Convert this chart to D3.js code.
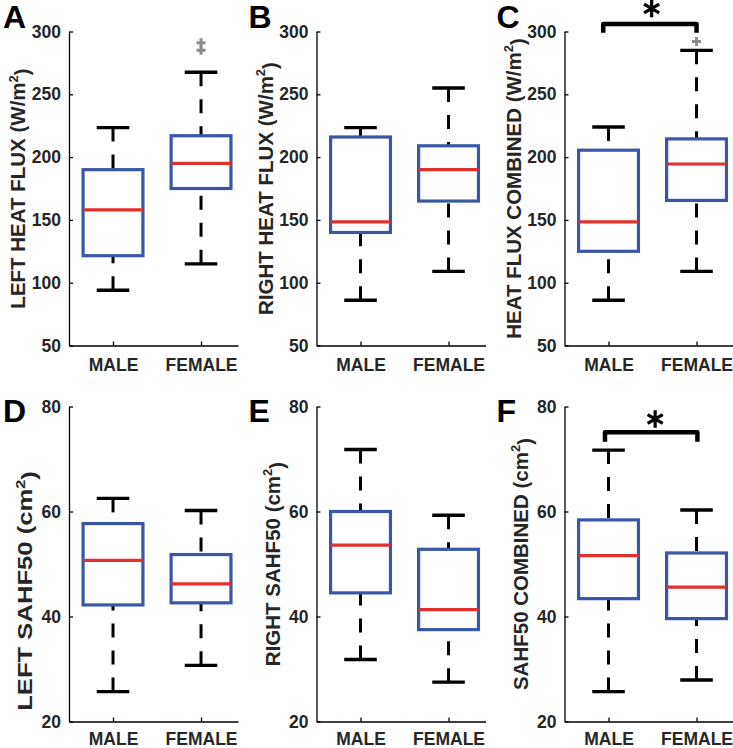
<!DOCTYPE html>
<html>
<head>
<meta charset="utf-8">
<script src="https://cdn.jsdelivr.net/npm/d3@7/dist/d3.min.js"></script>
<style>
  html, body { margin: 0; padding: 0; background: #ffffff; }
  svg { display: block; }
  text { font-family: "Liberation Sans", Arial, sans-serif; font-weight: bold; }
</style>
</head>
<body>
<script>
// ---------------- data ----------------
const categories = ["MALE", "FEMALE"];
const panelLetters = ["A", "B", "C", "D", "E", "F"];
const yLabelMain = ["LEFT HEAT FLUX (W/m", "RIGHT HEAT FLUX (W/m", "HEAT FLUX COMBINED (W/m",
                    "LEFT SAHF50 (cm", "RIGHT SAHF50 (cm", "SAHF50 COMBINED (cm"];
const heatTicks = [50, 100, 150, 200, 250, 300];
const sahfTicks = [20, 40, 60, 80];

// box stats: [lower whisker, Q1, median, Q3, upper whisker]
const leftHeatMale     = [94, 121.5, 158, 190, 223.5];
const leftHeatFemale   = [115, 175, 195, 217, 267.5];
const rightHeatMale    = [86, 140, 148.5, 216, 223.5];
const rightHeatFemale  = [109, 165, 190, 209, 255];
const combHeatMale     = [86, 125, 148.5, 205.5, 224];
const combHeatFemale   = [109, 165.5, 194.5, 214.5, 285];
const leftSahfMale     = [25.7, 42.2, 50.7, 57.7, 62.5];
const leftSahfFemale   = [30.7, 42.6, 46.2, 51.8, 60.2];
const rightSahfMale    = [31.8, 44.5, 53.6, 60.0, 71.8];
const rightSahfFemale  = [27.5, 37.5, 41.3, 52.8, 59.3];
const combSahfMale     = [25.7, 43.4, 51.6, 58.4, 71.7];
const combSahfFemale   = [27.9, 39.6, 45.6, 52.1, 60.3];

// outliers (female only)
const leftHeatOutliers = [291, 285];
const combHeatOutliers = [292];

// significance brackets: [x start, x end, top value, leg-end value, star x, star y]
const bracketC = [0.94, 2.0, 306, 299, 1.49, 318.3];
const bracketF = [0.96, 2.01, 75.1, 73.3, 1.53, 77.6];

// ---------------- layout ----------------
const W = 733, H = 748;
const colX = [69, 316.5, 564.5];
const rowTop = [31.5, 406.5];
const rowBottom = [345.5, 721.5];
const axisW = 169;
const labelStretch = [1, 1, 1, 1.25, 1, 1];
const labelShift = [0, 0, 0, 27, 0, 0];

const panels = [
  { stats: [leftHeatMale, leftHeatFemale], dom: [50, 300], ticks: heatTicks, out: leftHeatOutliers, br: null },
  { stats: [rightHeatMale, rightHeatFemale], dom: [50, 300], ticks: heatTicks, out: [], br: null },
  { stats: [combHeatMale, combHeatFemale], dom: [50, 300], ticks: heatTicks, out: combHeatOutliers, br: bracketC },
  { stats: [leftSahfMale, leftSahfFemale], dom: [20, 80], ticks: sahfTicks, out: [], br: null },
  { stats: [rightSahfMale, rightSahfFemale], dom: [20, 80], ticks: sahfTicks, out: [], br: null },
  { stats: [combSahfMale, combSahfFemale], dom: [20, 80], ticks: sahfTicks, out: [], br: bracketF }
];

const svg = d3.select("body").append("svg").attr("width", W).attr("height", H);

const BLUE = "#3a56a6", RED = "#e2302d", GRAY = "#8c8c8c", TXT = "#262626";

panels.forEach((p, k) => {
  const col = k % 3, row = Math.floor(k / 3);
  const x0 = colX[col], top = rowTop[row], bottom = rowBottom[row];
  const x = d3.scaleLinear().domain([0.5, 2.42]).range([x0, x0 + axisW]);
  const y = d3.scaleLinear().domain(p.dom).range([bottom, top]);
  const g = svg.append("g");

  // axes
  const ya = g.append("g").attr("transform", `translate(${x0},0)`)
    .call(d3.axisLeft(y).tickValues(p.ticks).tickSizeInner(-4).tickSizeOuter(0).tickPadding(8));
  const xa = g.append("g").attr("transform", `translate(0,${bottom})`)
    .call(d3.axisBottom(x).tickValues([1, 2]).tickFormat(d => categories[d - 1])
      .tickSizeInner(-4).tickSizeOuter(0).tickPadding(row === 0 ? 13 : 11));
  [ya, xa].forEach(a => {
    a.select(".domain").attr("stroke", "#000").attr("stroke-width", 1.3);
    a.selectAll(".tick line").attr("stroke", "#000").attr("stroke-width", 1.3);
    a.selectAll(".tick text").attr("fill", TXT).style("font-size", "17.5px")
      .style("font-family", "'Liberation Sans', Arial, sans-serif").style("font-weight", "bold");
  });

  // y label
  const lx = x0 - (row === 0 ? 44 : 37);
  const ly = (top + bottom) / 2 + labelShift[k];
  const t = g.append("text")
    .attr("transform", `translate(${lx},${ly}) rotate(-90) scale(${labelStretch[k]},1)`)
    .attr("text-anchor", "middle").attr("fill", TXT).style("font-size", "20.5px");
  t.append("tspan").text(yLabelMain[k]);
  t.append("tspan").attr("dy", "-0.55em").style("font-size", "13px").text("2");
  t.append("tspan").attr("dy", "0.55em").text(")");

  // panel letter
  g.append("text").attr("x", col === 0 ? 3 : colX[col] - 68).attr("y", row === 0 ? 28 : 422)
    .attr("fill", "#000").style("font-size", "32px").text(panelLetters[k]);

  // boxes
  const halfBox = 0.34, halfCap = 0.185;
  p.stats.forEach((s, i) => {
    const c = i + 1;
    const [lo, q1, med, q3, hi] = s;
    // whiskers, dashed from cap toward box
    g.append("line").attr("x1", x(c)).attr("x2", x(c)).attr("y1", y(hi)).attr("y2", y(q3))
      .attr("stroke", "#000").attr("stroke-width", 3).attr("stroke-dasharray", "14,13");
    g.append("line").attr("x1", x(c)).attr("x2", x(c)).attr("y1", y(lo)).attr("y2", y(q1))
      .attr("stroke", "#000").attr("stroke-width", 3).attr("stroke-dasharray", "14,13");
    // caps
    [lo, hi].forEach(v => {
      g.append("line").attr("x1", x(c - halfCap)).attr("x2", x(c + halfCap))
        .attr("y1", y(v)).attr("y2", y(v)).attr("stroke", "#000").attr("stroke-width", 3.4);
    });
    // box
    g.append("rect").attr("x", x(c - halfBox)).attr("y", y(q3))
      .attr("width", x(c + halfBox) - x(c - halfBox)).attr("height", y(q1) - y(q3))
      .attr("fill", "none").attr("stroke", BLUE).attr("stroke-width", 3.2);
    // median
    g.append("line").attr("x1", x(c - halfBox)).attr("x2", x(c + halfBox))
      .attr("y1", y(med)).attr("y2", y(med)).attr("stroke", RED).attr("stroke-width", 3.2);
  });

  // outliers (gray plus markers, female group)
  p.out.forEach(v => {
    const cx = x(2), cy = y(v), r = 4.5;
    g.append("path").attr("d", `M${cx - r},${cy}H${cx + r}M${cx},${cy - r}V${cy + r}`)
      .attr("stroke", GRAY).attr("stroke-width", 3).attr("fill", "none");
  });

  // significance bracket with asterisk marker
  if (p.br) {
    const [xa1, xa2, vt, vl, sx, sy] = p.br;
    g.append("path")
      .attr("d", `M${x(xa1)},${y(vl)}V${y(vt)}H${x(xa2)}V${y(vl)}`)
      .attr("stroke", "#000").attr("stroke-width", 4.5).attr("fill", "none")
      .attr("stroke-linejoin", "round");
    g.append("path")
      .attr("d", d3.symbol(d3.symbolAsterisk, 215)())
      .attr("transform", `translate(${x(sx)},${y(sy)})`)
      .attr("stroke", "#000").attr("stroke-width", 3.2).attr("fill", "none");
  }
});
</script>
</body>
</html>
